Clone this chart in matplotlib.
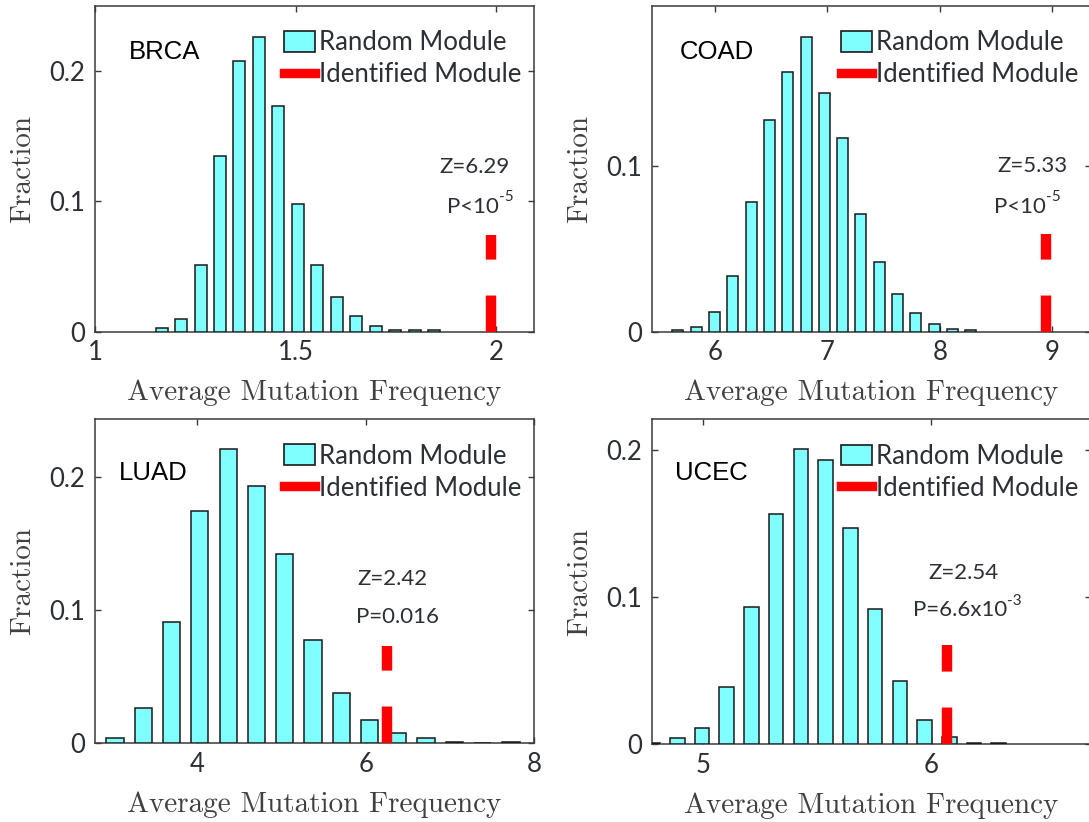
import numpy as np
import matplotlib
matplotlib.use("Agg")
import matplotlib.pyplot as plt
from matplotlib.patches import Patch
from matplotlib.lines import Line2D

# --- data ---
cancers = ["BRCA", "COAD", "LUAD", "UCEC"]

brca_centers = [1.167, 1.215, 1.264, 1.312, 1.360, 1.409, 1.457, 1.506, 1.554,
                1.603, 1.651, 1.699, 1.748, 1.796, 1.845]
brca_frac = [0.0026, 0.0095, 0.051, 0.135, 0.208, 0.226, 0.173, 0.098, 0.051,
             0.027, 0.012, 0.004, 0.0012, 0.0012, 0.0012]

coad_centers = [5.670, 5.833, 5.996, 6.158, 6.321, 6.484, 6.647, 6.810, 6.972,
                7.135, 7.298, 7.461, 7.624, 7.786, 7.949, 8.112, 8.275]
coad_frac = [0.0012, 0.0026, 0.012, 0.0335, 0.078, 0.1275, 0.1566, 0.1773, 0.1436,
             0.1165, 0.0709, 0.0418, 0.0227, 0.011, 0.0046, 0.0018, 0.0012]

luad_centers = [3.027, 3.362, 3.698, 4.033, 4.369, 4.704, 5.040, 5.375, 5.711,
                6.046, 6.382, 6.717, 7.053, 7.388, 7.724]
luad_frac = [0.0038, 0.0268, 0.091, 0.174, 0.2205, 0.193, 0.142, 0.0775, 0.0375,
             0.0175, 0.0075, 0.0038, 0.0013, 0.0, 0.0013]

ucec_centers = [4.779, 4.888, 4.996, 5.104, 5.213, 5.321, 5.429, 5.538, 5.646,
                5.754, 5.863, 5.971, 6.079, 6.188, 6.296]
ucec_frac = [0.0012, 0.0041, 0.0113, 0.0392, 0.0935, 0.1563, 0.2004, 0.1932, 0.1472,
             0.0917, 0.0433, 0.0165, 0.0052, 0.0012, 0.0012]

bar_widths = [0.030, 0.098, 0.205, 0.064]

# identified module: position and drawn height
module_x = [1.987, 8.941, 6.2515, 6.0714]
module_h = [0.074, 0.0586, 0.0733, 0.0673]

z_text = ["Z=6.29", "Z=5.33", "Z=2.42", "Z=2.54"]
p_main = ["P<10", "P<10", "P=0.016", "P=6.6x10"]
p_sup = ["-5", "-5", "", "-3"]

xlims = [(1.0, 2.094), (5.435, 9.344), (2.788, 8.0), (4.775, 6.70)]
ylims = [(0, 0.25), (0, 0.1962), (0, 0.243), (0, 0.2208)]
xticks = [[1, 1.5, 2], [6, 7, 8, 9], [4, 6, 8], [5, 6]]
xticklabels = [["1", "1.5", "2"], ["6", "7", "8", "9"], ["4", "6", "8"], ["5", "6"]]
yticks = [[0, 0.1, 0.2], [0, 0.1], [0, 0.1, 0.2], [0, 0.1, 0.2]]
yticklabels = [["0", "0.1", "0.2"], ["0", "0.1"], ["0", "0.1", "0.2"], ["0", "0.1", "0.2"]]

# text anchor positions (data coords)
name_pos = [(1.174, 0.2148), (6.015, 0.1687), (3.476, 0.2025), (5.038, 0.1846)]
z_pos = [(1.946, 0.1266), (8.824, 0.100), (6.32, 0.123), (6.14, 0.1162)]
p_pos = [(1.958, 0.0959), (8.778, 0.0753), (6.383, 0.095), (6.155, 0.0913)]

centers_all = [brca_centers, coad_centers, luad_centers, ucec_centers]
frac_all = [brca_frac, coad_frac, luad_frac, ucec_frac]

# --- style ---
dark = "#2b2f36"
axcol = "#3a3a3a"
cyan = "#80ffff"

W, H = 1089, 822
fig = plt.figure(figsize=(W / 100, H / 100), dpi=100)

# axes boxes in pixels: left, top, right, bottom
boxes = [(94.9, 6.0, 534.2, 331.7), (651.5, 6.0, 1091.0, 331.7),
         (94.9, 419.3, 534.2, 743.3), (651.5, 419.3, 1091.0, 744.3)]

for i, name in enumerate(cancers):
    l, t, r, b = boxes[i]
    ax = fig.add_axes([l / W, 1 - b / H, (r - l) / W, (b - t) / H])

    ax.bar(centers_all[i], frac_all[i], width=bar_widths[i], color=cyan,
           edgecolor="#1a1a1a", linewidth=1.1, zorder=2)
    ax.plot([module_x[i], module_x[i]], [0, module_h[i]], color="red", lw=7.5,
            dashes=(3.5, 3.45), dash_capstyle="butt", zorder=3)

    ax.set_xlim(*xlims[i])
    ax.set_ylim(*ylims[i])
    ax.set_xticks(xticks[i])
    ax.set_xticklabels(xticklabels[i], fontfamily="Lato", fontsize=18.5, color=dark)
    ax.set_yticks(yticks[i])
    ax.set_yticklabels(yticklabels[i], fontfamily="Lato", fontsize=18.5, color=dark)
    ax.tick_params(direction="in", length=4, width=1, color=axcol,
                   top=True, right=True)
    ax.tick_params(axis="x", pad=6)
    ax.tick_params(axis="y", pad=7)
    for sp in ax.spines.values():
        sp.set_color(axcol)
        sp.set_linewidth(1.1)
        sp.set_zorder(1)

    ax.set_xlabel("Average Mutation Frequency", fontfamily="cmr10", fontsize=21,
                  color="#404040")
    ax.set_ylabel("Fraction", fontfamily="cmr10", fontsize=21, color="#404040")
    ax.xaxis.label.set_va("center")
    ax.yaxis.label.set_va("center")
    ax.xaxis.set_label_coords(0.5, -61.0 / (b - t))
    ax.yaxis.set_label_coords(-72.0 / (r - l), 0.5)

    ax.text(*name_pos[i], name, fontfamily="Liberation Sans", fontsize=18.5,
            color="black", ha="center", va="center")
    ax.text(*z_pos[i], z_text[i], fontfamily="Lato", fontsize=16, color=dark,
            ha="center", va="center")

    # p-value: main text plus a small raised exponent
    shift = -5 if p_sup[i] else 0
    pm = ax.annotate(p_main[i], xy=p_pos[i], xytext=(shift, 0),
                     textcoords="offset points", fontfamily="Lato", fontsize=16,
                     color=dark, ha="center", va="center")
    if p_sup[i]:
        ax.annotate(p_sup[i], xy=(1.0, 0.62), xycoords=pm, fontfamily="Lato",
                    fontsize=11, color=dark, ha="left", va="bottom")

    handles = [Patch(facecolor=cyan, edgecolor="#1a1a1a", linewidth=1.2),
               Line2D([], [], color="red", lw=6.8)]
    ax.legend(handles, ["Random Module", "Identified Module"],
              loc="upper left", bbox_to_anchor=(0.431, 0.925), frameon=False,
              prop={"family": "Lato", "size": 18.5}, handlelength=1.2,
              handleheight=0.85, handletextpad=0.15, labelspacing=0.27,
              borderpad=0, borderaxespad=0, labelcolor=dark)

fig.savefig("out.png", dpi=100)
